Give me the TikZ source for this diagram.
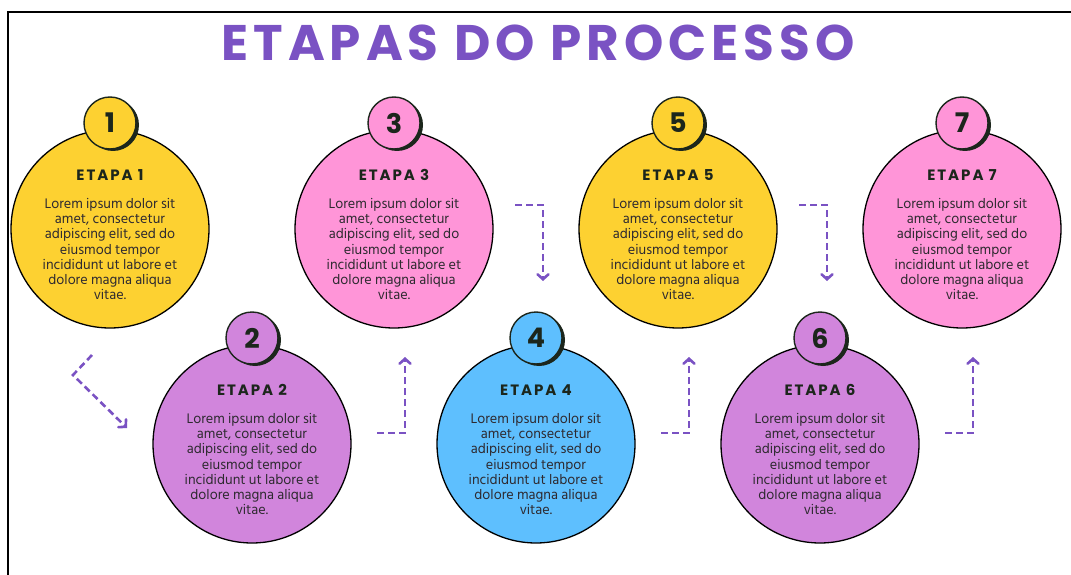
\documentclass[tikz,border=0pt]{standalone}
\usepackage{fontspec}
\usepackage{tikz}
\usetikzlibrary{arrows.meta}
\newfontfamily\titlefont{Poppins}[LetterSpace=10]
\newfontfamily\stepfont{Poppins}[LetterSpace=13]
\newfontfamily\numfont{Poppins}
\newfontfamily\bodyfont{Hind Siliguri}

\definecolor{yel}{HTML}{FDD131}
\definecolor{pnk}{HTML}{FF95D8}
\definecolor{lil}{HTML}{D185DC}
\definecolor{blu}{HTML}{5EBFFE}
\definecolor{violet}{HTML}{7A52C3}
\definecolor{ink}{HTML}{1C261C}
\definecolor{gray}{HTML}{2E2A30}

\tikzset{
bigdot/.style={circle, draw=black, line width=1.3pt, minimum size=198pt, inner sep=0pt},
numdot/.style={circle, draw=ink, line width=1.4pt, minimum size=52pt, inner sep=0pt,
  text=ink, font=\numfont\bfseries\fontsize{27}{27}\selectfont},
shade/.style={circle, fill=ink, minimum size=52pt, inner sep=0pt},
headtext/.style={text=ink, font=\stepfont\bfseries\fontsize{15}{15}\selectfont},
bodytext/.style={text=gray, align=center, font=\bodyfont\fontsize{14.2}{15.3}\selectfont},
flow/.style={draw=violet, line width=2.6pt, dash pattern=on 7pt off 4pt,
  -{Straight Barb[length=5pt,width=11pt,line cap=round]}},
}

\begin{document}
\begin{tikzpicture}[x=1pt,y=-1pt]
\useasboundingbox (0,0) rectangle (1071,575);
\begin{scope}
\clip (0,0) rectangle (1071,575);
\draw[line width=1.6pt] (8,12) rectangle (1090,600);
\end{scope}

\node[text=violet, font=\titlefont\bfseries\fontsize{50}{50}\selectfont] (title) at (538,43) {ETAPAS DO PROCESSO};

% circles
\foreach \i/\x/\y/\col in {1/110/229/yel, 2/252/444/lil, 3/394/229/pnk, 4/536/444/blu,
  5/678/229/yel, 6/820/444/lil, 7/962/229/pnk}{
\node[bigdot, fill=\col] (c\i) at (\x,\y) {};
\node[shade] at (\x+3,\y-104) {};
\node[numdot, fill=\col] (n\i) at (\x,\y-106) {\i};
\node[headtext] (h\i) at ([yshift=54pt]c\i.center) {ETAPA \i};
\node[bodytext] (t\i) at ([yshift=-20pt]c\i.center) {Lorem ipsum dolor sit\\amet, consectetur\\adipiscing elit, sed do\\eiusmod tempor\\incididunt ut labore et\\dolore magna aliqua\\vitae.};
}

% connectors
\coordinate (s12) at (92,355);
\coordinate (k12) at (73,375);
\coordinate (e12) at (127,428);
\draw[flow] (s12) -- (k12) -- (e12);
\foreach \a/\b/\x in {2/3/377, 4/5/661, 6/7/945}{
\coordinate (s\a\b) at (\x,433);
\coordinate (e\a\b) at (\x+28,357);
\draw[flow] (s\a\b) -| (e\a\b);
}
\foreach \a/\b/\x in {3/4/515, 5/6/799}{
\coordinate (s\a\b) at (\x,205);
\coordinate (e\a\b) at (\x+28,281);
\draw[flow] (s\a\b) -| (e\a\b);
}
\end{tikzpicture}
\end{document}
